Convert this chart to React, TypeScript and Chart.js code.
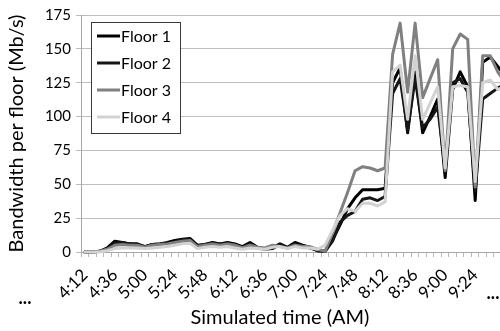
import React, { useEffect, useRef } from 'react';
import { Chart, registerables } from 'chart.js';

Chart.register(...registerables);

const timeLabels = [
  '4:12', '4:18', '4:24', '4:30', '4:36', '4:42', '4:48', '4:54',
  '5:00', '5:06', '5:12', '5:18', '5:24', '5:30', '5:36', '5:42', '5:48', '5:54',
  '6:00', '6:06', '6:12', '6:18', '6:24', '6:30', '6:36', '6:42', '6:48', '6:54',
  '7:00', '7:06', '7:12', '7:18', '7:24', '7:30', '7:36', '7:42', '7:48', '7:54',
  '8:00', '8:06', '8:12', '8:18', '8:24', '8:30', '8:36', '8:42', '8:48', '8:54',
  '9:00', '9:06', '9:12', '9:18', '9:24', '9:30', '9:36', '9:42', '9:48',
];

const shownTickLabels = [
  '4:12', '4:36', '5:00', '5:24', '5:48', '6:12', '6:36',
  '7:00', '7:24', '7:48', '8:12', '8:36', '9:00', '9:24',
];

const seriesNames = ['Floor 1', 'Floor 2', 'Floor 3', 'Floor 4'];
const seriesColors = ['#000000', '#161616', '#808080', '#d2d2d2'];

const floor1 = [
  0, 0, 0.5, 3, 8, 7, 6, 6, 4, 5.5, 6, 7, 8.5, 9.5, 10, 5, 5.5, 7, 6,
  7, 6, 4, 7, 3.5, 2.5, 3, 6, 3.5, 7, 5, 3.5, 1, 0.5, 9, 20, 32, 40, 46, 46,
  46, 47, 125, 136, 88, 133, 88, 100, 113, 55, 120, 133, 122, 38, 140, 144, 137, 130,
];
const floor2 = [
  0, 0, 0.5, 2.5, 6.5, 7, 6, 5, 4, 5.5, 6, 6.5, 7.5, 9, 9.5, 4.5, 5.5, 6.5, 6,
  6.5, 5, 3.5, 6, 3, 2, 2.5, 5.5, 3, 6, 4.5, 3, 1, 0.5, 8, 22, 27, 30, 39, 40,
  38, 41, 117, 128, 90, 128, 92, 98, 107, 62, 125, 128, 118, 45, 113, 117, 121, 124,
];
const floor3 = [
  0, 0, 0.5, 2, 5, 5.5, 5, 5, 3.5, 5, 5.5, 6, 7, 8, 8.5, 4, 5, 6, 5,
  6, 5, 3, 5, 3.5, 3, 5, 4, 3, 5, 4, 4, 2, 0.5, 14, 29, 44, 60, 63, 62,
  60, 62, 146, 169, 118, 169, 114, 128, 142, 60, 150, 161, 157, 48, 145, 145, 133, 125,
];
const floor4 = [
  0, 0, 0, 1, 2.5, 3, 3, 3, 2.5, 3, 3.5, 4, 5, 6, 6.5, 2.5, 3.5, 4, 3.5,
  4, 3, 2, 3, 2.5, 2, 3.5, 4, 2.5, 4, 3, 3, 2, 5, 16, 27, 32, 30, 36, 36,
  34, 37, 133, 138, 98, 145, 98, 110, 122, 62, 122, 123, 122, 52, 125, 127, 120, 122,
];
const seriesValues = [floor1, floor2, floor3, floor4];

const FONT = 'Lato, "Open Sans", sans-serif';

const overlayPlugin = {
  id: 'overlay',
  afterDraw(chart: any) {
    const ctx = chart.ctx;
    ctx.save();
    // legend box
    ctx.fillStyle = '#ffffff';
    ctx.fillRect(91.5, 22.5, 89, 111);
    ctx.strokeStyle = '#3a3a3a';
    ctx.lineWidth = 1;
    ctx.strokeRect(91.5, 22.5, 89, 111);
    chart.data.datasets.forEach((ds: any, i: number) => {
      const y = 36 + 27 * i;
      ctx.strokeStyle = ds.borderColor;
      ctx.lineWidth = 3;
      ctx.beginPath();
      ctx.moveTo(97, y);
      ctx.lineTo(120, y);
      ctx.stroke();
      ctx.fillStyle = '#000000';
      ctx.font = '16px ' + FONT;
      ctx.textBaseline = 'middle';
      ctx.textAlign = 'left';
      ctx.fillText(ds.label, 121, y + 1);
    });
    // x-axis title
    ctx.fillStyle = '#000000';
    ctx.font = '20px ' + FONT;
    ctx.textAlign = 'center';
    ctx.textBaseline = 'middle';
    ctx.fillText('Simulated time (AM)', 280, 318);
    // ellipses
    ctx.font = 'bold 18px ' + FONT;
    ctx.fillText('...', 25, 298);
    ctx.fillText('...', 493, 293);
    ctx.restore();
  },
};

export default function App() {
  const ref = useRef<HTMLCanvasElement | null>(null);

  useEffect(() => {
    if (!ref.current) return;
    const orders = [3, 2, 1, 0];
    const chart = new Chart(ref.current, {
      type: 'line',
      data: {
        labels: timeLabels,
        datasets: seriesNames.map((name, i) => ({
          label: name,
          data: seriesValues[i],
          borderColor: seriesColors[i],
          backgroundColor: seriesColors[i],
          borderWidth: 3,
          pointRadius: 0,
          tension: 0,
          fill: false,
          borderJoinStyle: 'round' as const,
          borderCapStyle: 'round' as const,
          order: orders[i],
          clip: false as any,
        })),
      },
      options: {
        responsive: false,
        animation: false,
        devicePixelRatio: 1,
        layout: { padding: { top: 15, left: 0, right: 0, bottom: 0 } },
        plugins: {
          legend: { display: false },
          tooltip: { enabled: false },
        },
        scales: {
          x: {
            type: 'category',
            offset: true,
            grid: {
              display: true,
              offset: true,
              drawOnChartArea: false,
              drawTicks: true,
              tickLength: 5,
              color: '#b8b8b8',
            },
            border: { color: '#a6a6a6' },
            ticks: {
              autoSkip: false,
              maxRotation: 45,
              minRotation: 45,
              padding: 8,
              labelOffset: 0,
              color: '#000000',
              font: { family: FONT, size: 17 },
              callback: (_v: any, index: number) => {
                const l = timeLabels[index];
                return shownTickLabels.includes(l) ? l : '';
              },
            },
            afterFit: (scale: any) => {
              scale.height = 79;
              scale.paddingLeft = 0;
              scale.paddingRight = 0;
            },
          },
          y: {
            min: 0,
            max: 175,
            ticks: {
              stepSize: 25,
              padding: 5,
              color: '#000000',
              font: { family: FONT, size: 15 },
            },
            grid: { color: '#bdbdbd', tickLength: 5 },
            border: { color: '#a6a6a6' },
            title: {
              display: true,
              text: 'Bandwidth per floor (Mb/s)',
              color: '#000000',
              font: { family: FONT, size: 20 },
              padding: { top: 5, bottom: 0 },
            },
            afterFit: (scale: any) => {
              scale.width = 81;
              scale.paddingTop = 0;
              scale.paddingBottom = 0;
            },
          },
        },
      },
      plugins: [overlayPlugin],
    });
    return () => chart.destroy();
  }, []);

  return (
    <div
      style={{
        position: 'fixed',
        left: 0,
        top: 0,
        width: 500,
        height: 331,
        overflow: 'hidden',
        background: '#ffffff',
      }}
    >
      <canvas ref={ref} width={509} height={331} style={{ width: 509, height: 331, display: 'block' }} />
    </div>
  );
}
